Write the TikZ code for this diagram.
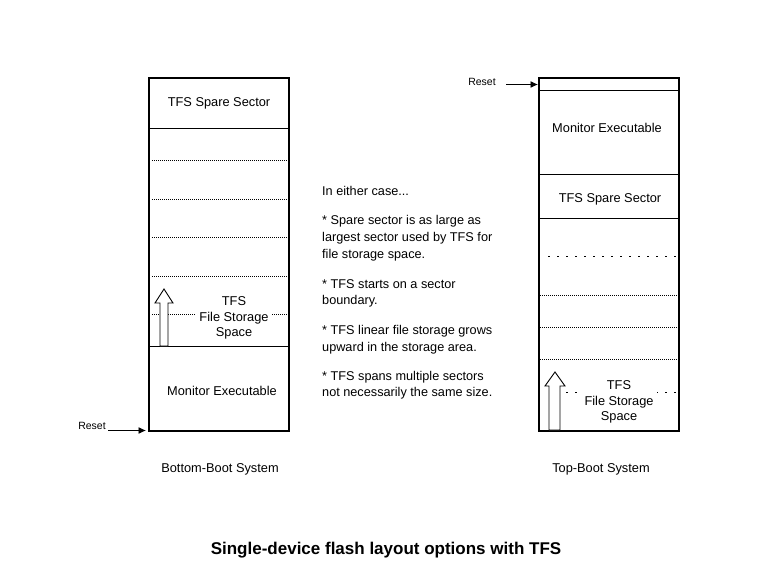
\documentclass[tikz,border=0pt]{standalone}
\usepackage{fontspec}
\setmainfont{Liberation Sans}
\usetikzlibrary{arrows.meta}
\begin{document}
\begin{tikzpicture}[x=1pt,y=-1pt,
  lbl/.style={inner sep=0pt,anchor=base,font=\fontsize{12.8}{15}\selectfont},
  small/.style={inner sep=0pt,anchor=base,font=\fontsize{10.5}{12}\selectfont},
  note/.style={inner sep=0pt,anchor=base west,font=\fontsize{12.7}{15}\selectfont},
  fsnote/.style={inner sep=0pt,fill=white,inner xsep=3pt,align=center,font=\fontsize{12.8}{15.5}\selectfont},
  membox/.style={draw,line width=1.8pt,minimum width=140pt,minimum height=353pt,inner sep=0pt,anchor=north west},
  solidsep/.style={line width=0.9pt},
  dotsep/.style={line width=0.8pt,dash pattern=on 0.9pt off 1.1pt},
  sparsesep/.style={line width=0.8pt,dash pattern=on 2pt off 7pt},
  growarrow/.style={draw,line width=0.9pt,fill=white},
  arr/.style={line width=0.9pt,-{Latex[length=7.5pt,width=7pt]}}]
\useasboundingbox (0,0) rectangle (768,576);
\fill[white] (0,0) rectangle (768,576);
% ---------- left: bottom-boot ----------
\node[membox] (lbox) at (148,77) {};
\draw[solidsep] (148,128) -- (288,128);
\foreach \yy in {160,199,237,276,314}
  \draw[dotsep] (152,\yy) -- (288,\yy);
\draw[solidsep] (148,346) -- (288,346);
\node[lbl] (lspare) at (219,106) {TFS Spare Sector};
\node[fsnote] (lfs) at (234,318) {TFS\\File Storage\\Space};
\node[lbl] (lmon) at (222,395) {Monitor Executable};
\draw[growarrow] (160,346) -- (160,303) -- (155,303) -- (164,289) -- (173,303) -- (168,303) -- (168,346) -- cycle;
\node[small] (lreset) at (92,429.5) {Reset};
\coordinate (lrtip) at (146,430.5);
\draw[arr] (108,430.5) -- (lrtip);
\node[lbl] (lcap) at (220,472) {Bottom-Boot System};
% ---------- right: top-boot ----------
\node[membox] (rbox) at (538,77) {};
\draw[solidsep] (538,90) -- (678,90);
\draw[solidsep] (538,174) -- (678,174);
\draw[solidsep] (538,218) -- (678,218);
\draw[sparsesep] (548,256) -- (678,256);
\foreach \yy in {295,327,359}
  \draw[dotsep] (540,\yy) -- (678,\yy);
\draw[sparsesep] (566,392) -- (678,392);
\node[lbl] (rmon) at (607,132) {Monitor Executable};
\node[lbl] (rspare) at (610,202) {TFS Spare Sector};
\node[fsnote] (rfs) at (619,402) {TFS\\File Storage\\Space};
\draw[growarrow] (549,430) -- (549,386) -- (545,386) -- (555,372) -- (565,386) -- (560,386) -- (560,430) -- cycle;
\node[small] (rreset) at (482,85) {Reset};
\coordinate (rrtip) at (538,84.5);
\draw[arr] (506,84.5) -- (rrtip);
\node[lbl] (rcap) at (601,472) {Top-Boot System};
% ---------- notes ----------
\node[note] (n1) at (322,195) {In either case...};
\node[note] (n2) at (322,224) {* Spare sector is as large as};
\node[note] (n3) at (322,241.5) {largest sector used by TFS for};
\node[note] (n4) at (322,258) {file storage space.};
\node[note] (n5) at (322,288) {* TFS starts on a sector};
\node[note] (n6) at (322,304) {boundary.};
\node[note] (n7) at (322,334) {* TFS linear file storage grows};
\node[note] (n8) at (322,351) {upward in the storage area.};
\node[note] (n9) at (322,380) {* TFS spans multiple sectors};
\node[note] (n10) at (322,396) {not necessarily the same size.};
% ---------- title ----------
\node[inner sep=0pt,anchor=base,font=\bfseries\fontsize{17}{19}\selectfont] (title) at (386,554) {Single-device flash layout options with TFS};
\end{tikzpicture}
\end{document}
